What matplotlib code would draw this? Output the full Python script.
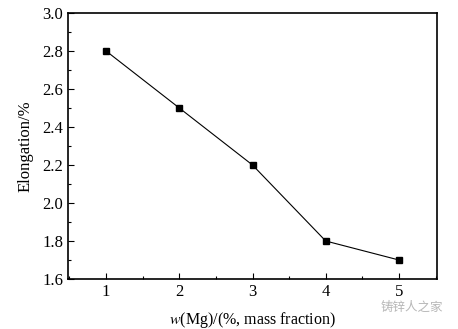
import matplotlib.pyplot as plt
from matplotlib.ticker import MultipleLocator

mg = [1, 2, 3, 4, 5]
elongation = [2.8, 2.5, 2.2, 1.8, 1.7]

plt.rcParams["font.family"] = ["Liberation Serif", "DejaVu Serif"]
plt.rcParams["mathtext.fontset"] = "stix"

fig = plt.figure(figsize=(4.58, 3.29), dpi=100)
ax = fig.add_axes([68 / 458, 1 - 279 / 329, (437 - 68) / 458, (279 - 13) / 329])

ax.plot(mg, elongation, color="black", lw=0.8, marker="s", ms=5,
        mfc="black", mec="black")

ax.set_xlim(0.48, 5.52)
ax.set_ylim(1.6, 3.0)
ax.xaxis.set_major_locator(MultipleLocator(1))
ax.xaxis.set_minor_locator(MultipleLocator(0.5))
ax.yaxis.set_major_locator(MultipleLocator(0.2))
ax.yaxis.set_minor_locator(MultipleLocator(0.1))
ax.set_yticklabels([f"{v:.1f}" for v in ax.get_yticks()])
ax.tick_params(which="both", direction="in", top=False, right=False,
               labelsize=12, width=0.8)
ax.tick_params(which="major", length=4)
ax.tick_params(which="minor", length=2)
for s in ax.spines.values():
    s.set_linewidth(1.2)

ax.set_xlabel(r"$\it{w}$(Mg)/(%, mass fraction)", fontsize=11.5, labelpad=7)
ax.set_ylabel("Elongation/%", fontsize=12, labelpad=6)

fig.text(0.967, 0.045, "铸锌人之家", ha="right", va="bottom", fontsize=9,
         color="#b8b8b8", family=["Noto Sans CJK SC", "DejaVu Sans"])

fig.savefig("out.png", dpi=100)
